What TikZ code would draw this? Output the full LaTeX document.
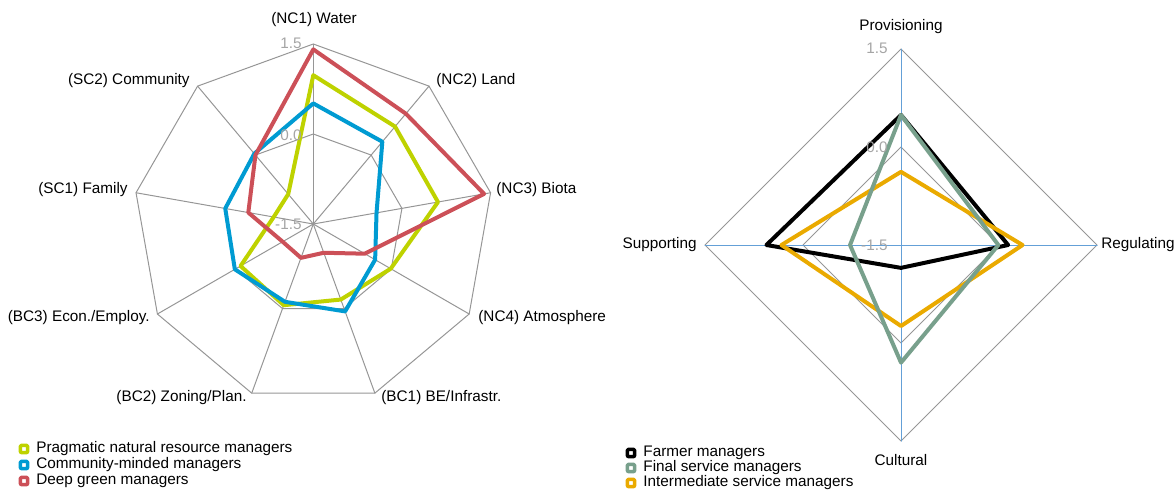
\documentclass[tikz,border=0pt]{standalone}
\usepackage{fontspec}
\setmainfont{Liberation Sans}
\usetikzlibrary{positioning}

\definecolor{pragmgreen}{RGB}{190,210,0}
\definecolor{commblue}{RGB}{0,155,210}
\definecolor{deepred}{RGB}{204,80,88}
\definecolor{farmblack}{RGB}{0,0,0}
\definecolor{finalgreen}{RGB}{120,160,140}
\definecolor{interorange}{RGB}{234,170,0}
\definecolor{axisblue}{RGB}{100,160,215}
\definecolor{gridgray}{RGB}{150,150,150}
\definecolor{ticktext}{RGB}{165,165,165}

\tikzset{
  gridline/.style={draw=gridgray, line width=0.5pt},
  spokeline/.style={draw=axisblue, line width=0.5pt},
  series/.style={draw=#1, line width=2pt},
  ticklabel/.style={text=ticktext, anchor=east, inner sep=0pt},
  axislabel/.style={inner sep=0pt},
  legendbox/.style={draw=#1, fill=white, line width=1.8pt, minimum size=3.6pt, inner sep=0pt, rounded corners=0.5pt},
  legendtext/.style={anchor=west, inner sep=0pt},
}

\begin{document}
\begin{tikzpicture}[x=0.5pt, y=0.5pt, line join=round, line cap=round, font=\fontsize{7.65}{9}\selectfont]
  \useasboundingbox (0,0) rectangle (1174,-489);

  % Left radar: nine capitals
  \begin{scope}[shift={(313.3,-224)}]
    \coordinate (lc) at (0,0);
    \foreach \i in {0,...,8} {
      \coordinate (lo\i) at ({90-40*\i}:180);
      \coordinate (lm\i) at ({90-40*\i}:90);
    }
    \foreach \i in {0,...,8} \draw[gridline] (lc) -- (lo\i);
    \draw[gridline] (lo0) -- (lo1) -- (lo2) -- (lo3) -- (lo4) -- (lo5) -- (lo6) -- (lo7) -- (lo8) -- cycle;
    \draw[gridline] (lm0) -- (lm1) -- (lm2) -- (lm3) -- (lm4) -- (lm5) -- (lm6) -- (lm7) -- (lm8) -- cycle;

    % scores, -1.5 at the centre, 1.5 on the rim
    \foreach \v [count=\i from 0] in {0.98,0.62,0.61,-0.01,-0.16,-0.06,-0.10,-0.83,-0.85}
      \coordinate (pg\i) at ({90-40*\i}:{(\v+1.5)*60});
    \foreach \v [count=\i from 0] in {0.51,0.29,-0.43,-0.31,0.05,-0.12,0.01,-0.01,0.03}
      \coordinate (cm\i) at ({90-40*\i}:{(\v+1.5)*60});
    \foreach \v [count=\i from 0] in {1.41,0.90,1.39,-0.51,-0.99,-0.90,-0.91,-0.40,0.00}
      \coordinate (dg\i) at ({90-40*\i}:{(\v+1.5)*60});

    \draw[series=pragmgreen] (pg0) -- (pg1) -- (pg2) -- (pg3) -- (pg4) -- (pg5) -- (pg6) -- (pg7) -- (pg8) -- cycle;
    \draw[series=commblue] (cm0) -- (cm1) -- (cm2) -- (cm3) -- (cm4) -- (cm5) -- (cm6) -- (cm7) -- (cm8) -- cycle;
    \draw[series=deepred] (dg0) -- (dg1) -- (dg2) -- (dg3) -- (dg4) -- (dg5) -- (dg6) -- (dg7) -- (dg8) -- cycle;
  \end{scope}

  \node[ticklabel] (lt1) at (302,-43) {1.5};
  \node[ticklabel] (lt2) at (302,-135) {0.0};
  \node[ticklabel] (lt3) at (302,-224) {-1.5};

  \node[axislabel] (nc1) at (314,-20) {(NC1) Water};
  \node[axislabel, anchor=west] (nc2) at (436,-81) {(NC2) Land};
  \node[axislabel, anchor=west] (nc3) at (496,-190) {(NC3) Biota};
  \node[axislabel, anchor=west] (nc4) at (478,-318) {(NC4) Atmosphere};
  \node[axislabel, anchor=west] (bc1) at (381,-398) {(BC1) BE/Infrastr.};
  \node[axislabel, anchor=east] (bc2) at (247,-398) {(BC2) Zoning/Plan.};
  \node[axislabel, anchor=east] (bc3) at (150,-318) {(BC3) Econ./Employ.};
  \node[axislabel, anchor=east] (sc1) at (128,-190) {(SC1) Family};
  \node[axislabel, anchor=east] (sc2) at (190,-81) {(SC2) Community};

  % Left legend
  \node[legendbox=pragmgreen] (kpg) at (24,-449) {};
  \node[legendbox=commblue] (kcm) at (24,-465) {};
  \node[legendbox=deepred] (kdg) at (24,-481) {};
  \node[legendtext] (tpg) at (36,-449) {Pragmatic natural resource managers};
  \node[legendtext] (tcm) at (36,-465) {Community-minded managers};
  \node[legendtext] (tdg) at (36,-481) {Deep green managers};

  % Right radar: four service types
  \begin{scope}[shift={(901,-245)}]
    \coordinate (rc) at (0,0);
    \foreach \i in {0,...,3} {
      \coordinate (ro\i) at ({90-90*\i}:196);
      \coordinate (rm\i) at ({90-90*\i}:98);
    }
    \draw[gridline] (ro0) -- (ro1) -- (ro2) -- (ro3) -- cycle;
    \draw[gridline] (rm0) -- (rm1) -- (rm2) -- (rm3) -- cycle;
    \draw[spokeline] (ro0) -- (ro2);
    \draw[spokeline] (ro3) -- (ro1);

    \foreach \v [count=\i from 0] in {0.49,0.14,-1.15,0.56}
      \coordinate (fm\i) at ({90-90*\i}:{(\v+1.5)*196/3});
    \foreach \v [count=\i from 0] in {0.49,-0.01,0.30,-0.72}
      \coordinate (fs\i) at ({90-90*\i}:{(\v+1.5)*196/3});
    \foreach \v [count=\i from 0] in {-0.38,0.36,-0.26,0.33}
      \coordinate (is\i) at ({90-90*\i}:{(\v+1.5)*196/3});

    \draw[series=farmblack] (fm0) -- (fm1) -- (fm2) -- (fm3) -- cycle;
    \draw[series=interorange] (is0) -- (is1) -- (is2) -- (is3) -- cycle;
    \draw[series=finalgreen] (fs0) -- (fs1) -- (fs2) -- (fs3) -- cycle;
  \end{scope}

  \node[ticklabel] (rt1) at (888,-48) {1.5};
  \node[ticklabel] (rt2) at (888,-147) {0.0};
  \node[ticklabel] (rt3) at (888,-245) {-1.5};

  \node[axislabel] (prov) at (901,-27) {Provisioning};
  \node[axislabel, anchor=west] (regu) at (1101,-245) {Regulating};
  \node[axislabel] (cult) at (901,-460) {Cultural};
  \node[axislabel, anchor=east] (supp) at (697,-245) {Supporting};

  % Right legend
  \node[legendbox=farmblack] (kfm) at (631,-453) {};
  \node[legendbox=finalgreen] (kfs) at (631,-468) {};
  \node[legendbox=interorange] (kis) at (631,-483) {};
  \node[legendtext] (tfm) at (643,-453) {Farmer managers};
  \node[legendtext] (tfs) at (643,-468) {Final service managers};
  \node[legendtext] (tis) at (643,-483) {Intermediate service managers};
\end{tikzpicture}
\end{document}
